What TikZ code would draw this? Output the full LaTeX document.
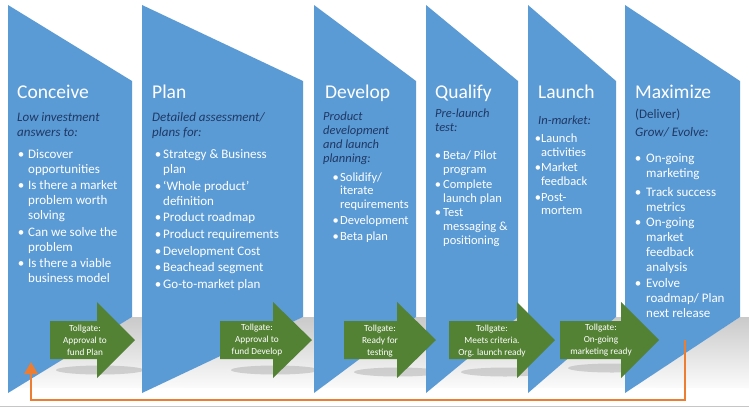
\documentclass[tikz,border=0pt]{standalone}
\usepackage{fontspec}
\setmainfont{Carlito}
\usetikzlibrary{calc,arrows.meta}
\definecolor{pblue}{HTML}{5B9BD5}
\definecolor{pgreen}{HTML}{548235}
\definecolor{pnavy}{HTML}{1F3864}
\definecolor{porange}{HTML}{ED7D31}
\newcommand\itm[2]{\parbox[t]{160pt}{\raggedright\let\\\newline\hangindent=#1\hangafter=1\leavevmode\makebox[#1][l]{\textbullet}#2}}
\newcommand\ml[1]{\parbox[t]{160pt}{\raggedright #1}}
\begin{document}
\begin{tikzpicture}[x=1pt,y=-1pt,
  ttl/.style={anchor=base west, inner sep=0, text=white, font=\fontsize{19.5}{23}\selectfont},
  sub/.style={anchor=base west, inner sep=0, text=pnavy, font=\fontsize{13}{14.5}\selectfont\itshape},
  subB/.style={anchor=base west, inner sep=0, text=pnavy, font=\fontsize{12.5}{14}\selectfont\itshape},
  itemA/.style={anchor=base west, inner sep=0, text=white, font=\fontsize{13}{15}\selectfont},
  itemB/.style={anchor=base west, inner sep=0, text=white, font=\fontsize{12.5}{13.8}\selectfont},
  gate/.style={inner sep=0, text=white, align=center, font=\fontsize{9.3}{12}\selectfont},
  panel/.style={fill=pblue},
  gatearrow/.style={fill=pgreen},
  loop/.style={draw=porange, line width=2.6pt, -{Triangle[width=13pt,length=12pt]}}
]
\useasboundingbox (0,0) rectangle (749,408);
\fill[white] (0,0) rectangle (749,408);

% shadows below the panels
\foreach \L/\R/\E in {8/132/142, 142/303/314, 314/416/426, 426/518/528, 528/616/625, 625/740/749}{
  \shade[top color=gray!42, bottom color=gray!3]
    ($(\L,393)!0.07!(\R,317)$) -- (\R,317) -- (\E,317) -- (\E,388) -- cycle;
}
% floor streaks under the tollgate arrows
\foreach \cx/\cy in {100/370, 275/370, 398/372, 505/372, 612/368}{
  \fill[gray!70, opacity=0.45] (\cx,\cy) ellipse (44pt and 4.5pt);
}
% panels
\foreach \L/\R in {8/132, 142/303, 314/416, 426/518, 528/616, 625/740}{
  \fill[panel] (\L,5) -- (\R,81) -- (\R,317) -- (\L,393) -- cycle;
}
% tollgate arrows
\foreach \A/\B/\T in {50/97/135, 220/273/312, 344/397/436, 449/517/555, 560/621/659}{
  \fill[gatearrow] (\A,321) -- (\B,321) -- (\B,302) -- (\T,340) -- (\B,378) -- (\B,359) -- (\A,359) -- cycle;
}

% Conceive
\node[ttl] (t1) at (17,98) {Conceive};
\node[sub] (s1) at (17,121.5) {\ml{Low investment\\answers to:}};
\node[itemA] (b1a) at (17.7,158) {\itm{10.3pt}{Discover\\opportunities}};
\node[itemA] (b1b) at (17.7,189.5) {\itm{10.3pt}{Is there a market\\problem worth\\solving}};
\node[itemA] (b1c) at (17.7,236) {\itm{10.3pt}{Can we solve the\\problem}};
\node[itemA] (b1d) at (17.7,267.5) {\itm{10.3pt}{Is there a viable\\business model}};

% Plan
\node[ttl] (t2) at (152,98) {Plan};
\node[sub] (s2) at (152,121.5) {\ml{Detailed assessment/\\plans for:}};
\node[itemA] (b2a) at (154.7,158.3) {\itm{8.3pt}{Strategy \& Business\\plan}};
\node[itemA] (b2b) at (154.7,190) {\itm{8.3pt}{‘Whole product’\\definition}};
\node[itemA] (b2c) at (154.7,221.7) {\itm{8.3pt}{Product roadmap}};
\node[itemA] (b2d) at (154.7,238.4) {\itm{8.3pt}{Product requirements}};
\node[itemA] (b2e) at (154.7,255.1) {\itm{8.3pt}{Development Cost}};
\node[itemA] (b2f) at (154.7,271.8) {\itm{8.3pt}{Beachead segment}};
\node[itemA] (b2g) at (154.7,288.5) {\itm{8.3pt}{Go-to-market plan}};

% Develop
\node[ttl] (t3) at (325,98) {Develop};
\node[subB] (s3) at (323,120) {\ml{Product\\development\\and launch\\planning:}};
\node[itemB] (b3a) at (332.5,181) {\itm{7.5pt}{Solidify/\\iterate\\requirements}};
\node[itemB] (b3b) at (332.5,224.5) {\itm{7.5pt}{Development}};
\node[itemB] (b3c) at (332.5,240.5) {\itm{7.5pt}{Beta plan}};

% Qualify
\node[ttl] (t4) at (435,98) {Qualify};
\node[subB] (s4) at (435,117.5) {\ml{Pre-launch\\test:}};
\node[itemB] (b4a) at (434.7,159.5) {\itm{8.3pt}{Beta/ Pilot\\program}};
\node[itemB] (b4b) at (434.7,188.5) {\itm{8.3pt}{Complete\\launch plan}};
\node[itemB] (b4c) at (434.7,216.5) {\itm{8.3pt}{Test\\messaging \&\\positioning}};

% Launch
\node[ttl] (t5) at (538,98) {Launch};
\node[subB] (s5) at (538,124) {\ml{In-market:}};
\node[itemB] (b5a) at (534.7,142.5) {\itm{6.3pt}{Launch\\activities}};
\node[itemB] (b5b) at (534.7,171.5) {\itm{6.3pt}{Market\\feedback}};
\node[itemB] (b5c) at (534.7,201) {\itm{6.3pt}{Post-\\mortem}};

% Maximize
\node[ttl] (t6) at (635,98) {Maximize};
\node[sub, font=\fontsize{13}{14.5}\selectfont] (d6) at (635,118.5) {(Deliver)};
\node[sub] (s6) at (635,136.5) {\ml{Grow/ Evolve:}};
\node[itemA] (b6a) at (634.7,162.5) {\itm{11.3pt}{On-going\\marketing}};
\node[itemA] (b6b) at (634.7,196.5) {\itm{11.3pt}{Track success\\metrics}};
\node[itemA] (b6c) at (634.7,226.5) {\itm{11.3pt}{On-going\\market\\feedback\\analysis}};
\node[itemA] (b6d) at (634.7,287.5) {\itm{11.3pt}{Evolve\\roadmap/ Plan\\next release}};

% tollgate labels
\node[gate] (g1) at (85,340.5) {Tollgate:\\Approval to\\fund Plan};
\node[gate] (g2) at (257,340.5) {Tollgate:\\Approval to\\fund Develop};
\node[gate] (g3) at (380,341) {Tollgate:\\Ready for\\testing};
\node[gate] (g4) at (492,341) {Tollgate:\\Meets criteria.\\Org. launch ready};
\node[gate] (g5) at (601,340) {Tollgate:\\On-going\\marketing ready};

% feedback loop
\coordinate (loopstart) at (685,340);
\coordinate (loopend) at (31,362);
\coordinate (floor) at (0,400);
\draw[loop] (loopstart) -- (loopstart |- floor) -- (loopend |- floor) -- (loopend);

% bottom rule
\draw[gray!45, line width=1.5pt] (0,406.5) -- (749,406.5);
\end{tikzpicture}
\end{document}
